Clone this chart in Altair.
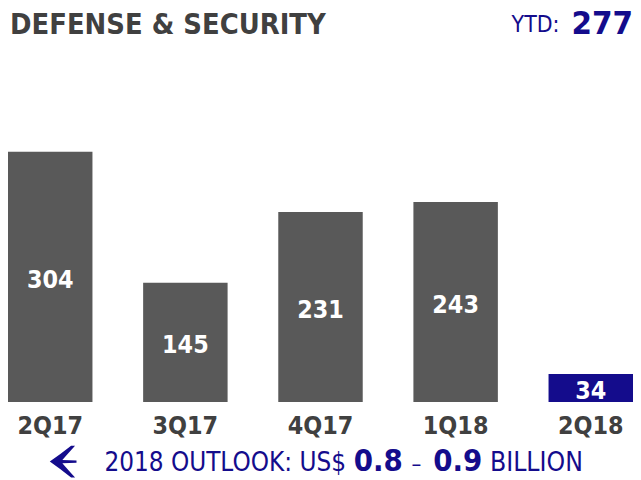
import altair as alt
import pandas as pd

quarters = ["2Q17", "3Q17", "4Q17", "1Q18", "2Q18"]
values = [304, 145, 231, 243, 34]
highlight = ["past", "past", "past", "past", "current"]

title_text = "DEFENSE & SECURITY"
ytd_label = "YTD:"
ytd_value = "277"
outlook_parts = ["2018 OUTLOOK: US$", "0.8", "–", "0.9", "BILLION"]

FONT = "DejaVu Sans Condensed"
GRAY = "#595959"
DARK = "#404040"
NAVY = "#140c8c"

df = pd.DataFrame({"q": quarters, "v": values, "h": highlight})

base = alt.Chart(df).encode(
    x=alt.X(
        "q:N",
        sort=quarters,
        scale=alt.Scale(paddingInner=0.375, paddingOuter=0),
        axis=alt.Axis(
            title=None, domain=False, ticks=False, labelAngle=0,
            labelFont=FONT, labelFontSize=25, labelFontWeight="bold",
            labelColor=DARK, labelPadding=12,
        ),
    )
)

bars = base.mark_bar().encode(
    y=alt.Y("v:Q", scale=alt.Scale(domain=[0, 477], nice=False), axis=None),
    color=alt.Color("h:N", scale=alt.Scale(domain=["past", "current"], range=[GRAY, NAVY]), legend=None),
)

labels = base.transform_calculate(mid="datum.v / 2").mark_text(
    font=FONT, fontSize=25, fontWeight="bold", color="white", baseline="middle", dy=3
).encode(
    y=alt.Y("mid:Q", scale=alt.Scale(domain=[0, 477], nice=False), axis=None),
    text="v:Q",
)


def note(text, x, y, size, weight="normal", color=NAVY, align="left"):
    return alt.Chart(pd.DataFrame({"t": [text]})).mark_text(
        font=FONT, fontSize=size, fontWeight=weight, color=color,
        align=align, baseline="alphabetic",
    ).encode(text="t:N", x=alt.value(x), y=alt.value(y))


notes = [
    note(title_text, 2, 25, 29, "bold", DARK),
    note(ytd_value, 629, 25, 33, "bold", NAVY, "right"),
    note(ytd_label, 555, 23, 23, "normal", NAVY, "right"),
    note(outlook_parts[0], 97, 464, 26),
    note(outlook_parts[1], 348, 464, 31, "bold"),
    note(outlook_parts[2], 411, 464, 22, "normal", NAVY, "center"),
    note(outlook_parts[3], 428, 464, 31, "bold"),
    note(outlook_parts[4], 485, 464, 26.5),
]

arrow_path = ("M -0.84 0 Q -0.2 -0.45 0.5 -1 L 0.75 -1 Q 0.25 -0.45 -0.05 -0.1 "
              "L 0.84 -0.07 L 0.84 0.07 L -0.05 0.1 Q 0.25 0.45 0.75 1 L 0.5 1 "
              "Q -0.2 0.45 -0.84 0 Z")
icon = alt.Chart(pd.DataFrame({"k": [1]})).mark_point(
    shape=arrow_path, filled=True, color=NAVY, size=1024, opacity=1
).encode(x=alt.value(55.5), y=alt.value(455))

chart = alt.layer(bars, labels, *notes, icon).properties(
    width=629, height=395,
    autosize=alt.AutoSizeParams(type="none"),
    padding={"left": 0, "top": 0, "right": 0, "bottom": 77},
).configure_view(stroke=None)

chart.save("out.html", embed_options={"renderer": "svg", "actions": False})
